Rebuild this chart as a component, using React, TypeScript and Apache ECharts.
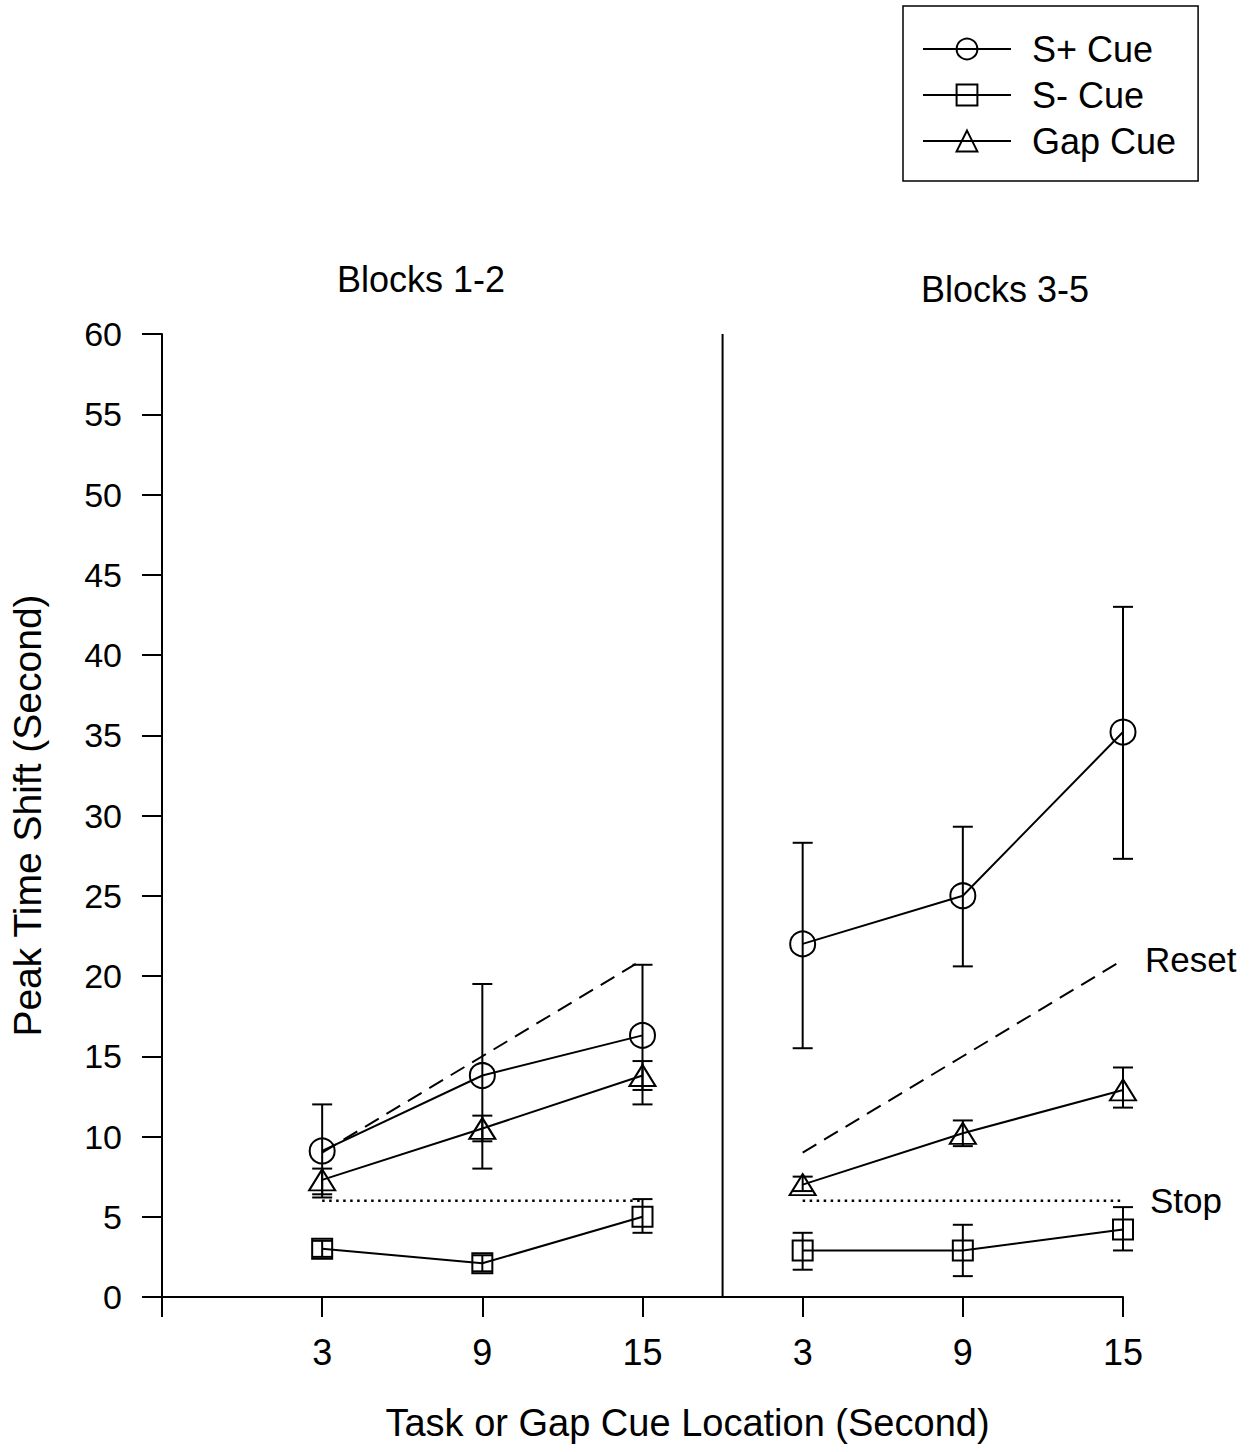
import React, { useEffect, useRef } from "react";
import * as echarts from "echarts";

// ---------- data ----------
const cueLocations = [3, 9, 15];
const xTickLabels = ["", "3", "9", "15", "3", "9", "15"];
const panelTitles = ["Blocks 1-2", "Blocks 3-5"];
const seriesNames = ["S+ Cue", "S- Cue", "Gap Cue"];

// Blocks 1-2
const sPlus12 = [9.1, 13.8, 16.3];
const sPlus12Hi = [12.0, 19.5, 20.7];
const sPlus12Lo = [6.2, 8.0, 12.0];
const sMinus12 = [3.0, 2.1, 5.0];
const sMinus12Hi = [3.5, 2.6, 6.1];
const sMinus12Lo = [2.5, 1.6, 4.0];
const gap12 = [7.3, 10.5, 13.8];
const gap12Hi = [8.0, 11.3, 14.7];
const gap12Lo = [6.4, 9.7, 12.9];

// Blocks 3-5
const sPlus35 = [22.0, 25.0, 35.2];
const sPlus35Hi = [28.3, 29.3, 43.0];
const sPlus35Lo = [15.5, 20.6, 27.3];
const sMinus35 = [2.9, 2.9, 4.2];
const sMinus35Hi = [4.0, 4.5, 5.6];
const sMinus35Lo = [1.7, 1.3, 2.9];
const gap35 = [7.0, 10.2, 12.9];
const gap35Hi = [7.5, 11.0, 14.3];
const gap35Lo = [6.6, 9.4, 11.8];

// model predictions
const resetLine = [9, 15, 21];
const stopLine = [6, 6, 6];

const yMin = 0;
const yMax = 60;
const yStep = 5;
const dividerX = 3.5;

// ---------- helpers ----------
const FONT = "'Liberation Sans', Arial, Helvetica, sans-serif";

const panelX = (panel: number, i: number) => panel * cueLocations.length + i + 1;

function markerSeries(name: string, values: number[], panel: number, symbol: string, size: any) {
  return {
    type: "line",
    name,
    data: values.map((v, i) => [panelX(panel, i), v]),
    symbol,
    symbolSize: size,
    showSymbol: true,
    itemStyle: { color: "transparent", borderColor: "#000", borderWidth: 2 },
    lineStyle: { color: "#000", width: 2 },
    emphasis: { disabled: true },
    z: 4,
  };
}

function errorSeries(lo: number[], hi: number[], panel: number) {
  return {
    type: "custom",
    silent: true,
    data: lo.map((l, i) => [panelX(panel, i), l, hi[i]]),
    encode: { x: 0, y: [1, 2] },
    renderItem: (params: any, api: any) => {
      const x = api.value(0);
      const pLo = api.coord([x, api.value(1)]);
      const pHi = api.coord([x, api.value(2)]);
      const w = 10;
      const st = { stroke: "#000", lineWidth: 2 };
      return {
        type: "group",
        children: [
          { type: "line", shape: { x1: pLo[0], y1: pLo[1], x2: pHi[0], y2: pHi[1] }, style: st },
          { type: "line", shape: { x1: pLo[0] - w, y1: pLo[1], x2: pLo[0] + w, y2: pLo[1] }, style: st },
          { type: "line", shape: { x1: pHi[0] - w, y1: pHi[1], x2: pHi[0] + w, y2: pHi[1] }, style: st },
        ],
      };
    },
    z: 3,
  };
}

function refSeries(values: number[], panel: number, dash: number[], width: number, label?: string, dist?: number) {
  return {
    type: "line",
    data: values.map((v, i) => [panelX(panel, i), v]),
    symbol: "none",
    silent: true,
    lineStyle: { color: "#000", width, type: dash, cap: "butt" },
    endLabel: label
      ? {
          show: true,
          formatter: label,
          distance: dist,
          fontSize: 35,
          fontFamily: FONT,
          color: "#000",
        }
      : { show: false },
    z: 2,
  };
}

export default function App() {
  const ref = useRef<HTMLDivElement>(null);

  useEffect(() => {
    if (!ref.current) return;
    const chart = echarts.init(ref.current, undefined, { renderer: "svg" });

    const panels = [
      { sp: sPlus12, spHi: sPlus12Hi, spLo: sPlus12Lo, sm: sMinus12, smHi: sMinus12Hi, smLo: sMinus12Lo, gp: gap12, gpHi: gap12Hi, gpLo: gap12Lo },
      { sp: sPlus35, spHi: sPlus35Hi, spLo: sPlus35Lo, sm: sMinus35, smHi: sMinus35Hi, smLo: sMinus35Lo, gp: gap35, gpHi: gap35Hi, gpLo: gap35Lo },
    ];

    const series: any[] = [];
    panels.forEach((p, k) => {
      series.push(refSeries(resetLine, k, [16, 9], 2, k === 1 ? "Reset" : undefined, 22));
      series.push(refSeries(stopLine, k, [2.5, 4.5], 2.5, k === 1 ? "Stop" : undefined, 27));
      series.push(errorSeries(p.spLo, p.spHi, k));
      series.push(errorSeries(p.smLo, p.smHi, k));
      series.push(errorSeries(p.gpLo, p.gpHi, k));
      series.push(markerSeries(seriesNames[0], p.sp, k, "circle", 25));
      series.push(markerSeries(seriesNames[1], p.sm, k, "rect", 20));
      series.push(markerSeries(seriesNames[2], p.gp, k, "triangle", [26, 21]));
    });

    series.push({
      type: "line",
      data: [
        [dividerX, yMin],
        [dividerX, yMax],
      ],
      symbol: "none",
      silent: true,
      lineStyle: { color: "#000", width: 2 },
      z: 1,
    });

    chart.setOption({
      animation: false,
      backgroundColor: "#fff",
      grid: { left: 159, right: 127, top: 334, bottom: 155 },
      legend: {
        data: seriesNames,
        orient: "vertical",
        left: 903,
        top: 6,
        padding: [25, 22, 22, 19],
        itemWidth: 88,
        itemHeight: 26,
        itemGap: 10,
        borderColor: "#000",
        borderWidth: 1.5,
        borderRadius: 0,
        selectedMode: false,
        textStyle: {
          fontSize: 36,
          fontFamily: FONT,
          color: "#000",
          lineHeight: 26,
          padding: [0, 0, 0, 16],
        },
      },
      graphic: [
        {
          type: "text",
          x: 421,
          y: 279,
          style: { text: panelTitles[0], font: `36px ${FONT}`, fill: "#000", align: "center", verticalAlign: "middle" },
        },
        {
          type: "text",
          x: 1005,
          y: 289,
          style: { text: panelTitles[1], font: `36px ${FONT}`, fill: "#000", align: "center", verticalAlign: "middle" },
        },
      ],
      xAxis: {
        type: "value",
        min: 0,
        max: cueLocations.length * 2,
        interval: 1,
        name: "Task or Gap Cue Location (Second)",
        nameLocation: "middle",
        nameGap: 107,
        nameTextStyle: { fontSize: 38, fontFamily: FONT, color: "#000", padding: [0, 0, 0, 90] },
        axisLine: { lineStyle: { color: "#000", width: 2 } },
        axisTick: { show: true, inside: false, length: 20, lineStyle: { color: "#000", width: 2 } },
        axisLabel: {
          formatter: (v: number) => xTickLabels[Math.round(v)] ?? "",
          fontSize: 36,
          fontFamily: FONT,
          color: "#000",
          margin: 37,
        },
        splitLine: { show: false },
      },
      yAxis: {
        type: "value",
        min: yMin,
        max: yMax,
        interval: yStep,
        name: "Peak Time Shift (Second)",
        nameLocation: "middle",
        nameRotate: 90,
        nameGap: 115,
        nameTextStyle: { fontSize: 39, fontFamily: FONT, color: "#000" },
        axisLine: { show: true, lineStyle: { color: "#000", width: 2 } },
        axisTick: { show: true, inside: false, length: 20, lineStyle: { color: "#000", width: 2 } },
        axisLabel: { fontSize: 34, fontFamily: FONT, color: "#000", margin: 40 },
        splitLine: { show: false },
      },
      series,
    });

    return () => chart.dispose();
  }, []);

  return (
    <div
      ref={ref}
      style={{ position: "absolute", left: 0, top: 0, width: 1250, height: 1452, background: "#fff" }}
    />
  );
}
